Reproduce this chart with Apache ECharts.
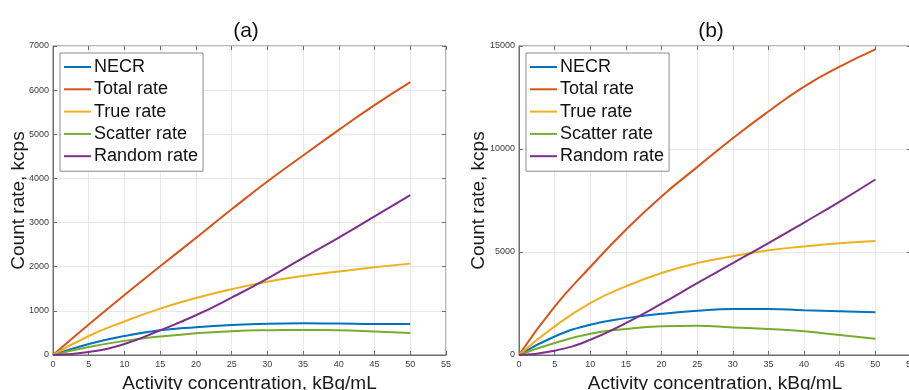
<!DOCTYPE html>
<html>
<head>
<meta charset="utf-8">
<script src="https://cdn.jsdelivr.net/npm/echarts@6/dist/echarts.min.js"></script>
<style>
  html, body { margin: 0; padding: 0; background: #fff; }
  #countRateChart { width: 909px; height: 390px; }
</style>
</head>
<body>
<div id="countRateChart"></div>
<script>
// activity concentration, kBq/mL
var activity = [0, 5, 10, 15, 20, 25, 30, 35, 40, 45, 50];
var seriesNames = ["NECR", "Total rate", "True rate", "Scatter rate", "Random rate"];
var seriesColors = ["#0072BD", "#D95319", "#EDB120", "#77AC30", "#7E2F8E"];

// panel (a), kcps
var necrA    = [0, 250, 430, 560, 630, 680, 710, 720, 712, 702, 700];
var totalA   = [0, 690, 1360, 2010, 2650, 3300, 3930, 4520, 5100, 5660, 6180];
var trueA    = [0, 430, 760, 1050, 1290, 1490, 1660, 1790, 1890, 1990, 2070];
var scatterA = [0, 180, 320, 420, 490, 540, 560, 565, 560, 535, 500];
var randomA  = [0, 70, 250, 560, 900, 1300, 1730, 2200, 2660, 3140, 3620];

// panel (b), kcps
var necrB    = [0, 900, 1470, 1790, 2000, 2150, 2230, 2230, 2170, 2120, 2070];
var totalB   = [0, 2350, 4270, 6080, 7700, 9120, 10520, 11820, 13030, 14000, 14840];
var trueB    = [0, 1390, 2520, 3330, 3980, 4460, 4790, 5080, 5270, 5430, 5530];
var scatterB = [0, 580, 1035, 1260, 1390, 1420, 1340, 1260, 1150, 970, 790];
var randomB  = [0, 210, 740, 1550, 2490, 3490, 4460, 5430, 6430, 7450, 8520];

var xTicks = { min: 0, max: 55, interval: 5 };
var yTicksA = { min: 0, max: 7000, interval: 1000 };
var yTicksB = { min: 0, max: 15000, interval: 5000 };

var myChart = echarts.init(document.getElementById("countRateChart"));

function pairs(ys) {
  return ys.map(function (y, i) { return [activity[i], y]; });
}

var tickLine = { color: "#6e6e6e" };

function makeXAxis(gridIndex) {
  return {
    type: "value",
    gridIndex: gridIndex,
    position: "bottom",
    min: xTicks.min,
    max: xTicks.max,
    interval: xTicks.interval,
    name: "Activity concentration, kBq/mL",
    nameLocation: "middle",
    nameGap: 19,
    nameTextStyle: { fontSize: 19, color: "#1a1a1a", fontFamily: "Liberation Sans" },
    axisLine: { onZero: false, lineStyle: tickLine },
    axisTick: { inside: true, length: 4, lineStyle: tickLine },
    axisLabel: { fontSize: 9, color: "#3a3a3a", margin: 5 },
    splitLine: { show: true, lineStyle: { color: "#e8e8e8" } }
  };
}

// top edge ticks (box)
function makeTopAxis(gridIndex) {
  return {
    type: "value",
    gridIndex: gridIndex,
    position: "top",
    min: xTicks.min,
    max: xTicks.max,
    interval: xTicks.interval,
    axisLine: { show: false, onZero: false },
    axisTick: { inside: true, length: 4, lineStyle: tickLine },
    axisLabel: { show: false },
    splitLine: { show: false }
  };
}

function makeYAxis(gridIndex, ticks, gap) {
  return {
    type: "value",
    gridIndex: gridIndex,
    position: "left",
    min: ticks.min,
    max: ticks.max,
    interval: ticks.interval,
    name: "Count rate, kcps",
    nameLocation: "middle",
    nameGap: gap,
    nameMoveOverlap: false,
    nameTextStyle: { fontSize: 19, color: "#1a1a1a", fontFamily: "Liberation Sans" },
    axisLine: { show: true, onZero: false, lineStyle: tickLine },
    axisTick: { show: true, inside: true, length: 4, lineStyle: tickLine },
    axisLabel: { fontSize: 9, color: "#3a3a3a", margin: 4, formatter: function (v) { return String(v); } },
    splitLine: { show: true, lineStyle: { color: "#e8e8e8" } }
  };
}

// right edge ticks (box)
function makeRightAxis(gridIndex, ticks) {
  return {
    type: "value",
    gridIndex: gridIndex,
    position: "right",
    min: ticks.min,
    max: ticks.max,
    interval: ticks.interval,
    axisLine: { show: false, onZero: false },
    axisTick: { show: true, inside: true, length: 4, lineStyle: tickLine },
    axisLabel: { show: false },
    splitLine: { show: false }
  };
}

function makeLegend(left) {
  return {
    data: seriesNames,
    orient: "vertical",
    left: left,
    top: 53,
    padding: [5, 5, 6, 4],
    icon: "rect",
    itemWidth: 27,
    itemHeight: 2,
    itemGap: 4.3,
    backgroundColor: "#fff",
    borderColor: "#8a8a8a",
    borderWidth: 1,
    borderRadius: 0,
    selectedMode: false,
    textStyle: { fontSize: 18, color: "#111", fontFamily: "Liberation Sans", padding: [0, 0, 0, -2] }
  };
}

function makeSeries(data, idx, axisIdx) {
  return {
    name: seriesNames[idx],
    type: "line",
    xAxisIndex: axisIdx,
    yAxisIndex: axisIdx,
    smooth: true,
    symbol: "none",
    lineStyle: { width: 2, color: seriesColors[idx] },
    itemStyle: { color: seriesColors[idx] },
    data: pairs(data)
  };
}

var dataA = [necrA, totalA, trueA, scatterA, randomA];
var dataB = [necrB, totalB, trueB, scatterB, randomB];
var series = [];
dataA.forEach(function (d, i) { series.push(makeSeries(d, i, 0)); });
dataB.forEach(function (d, i) { series.push(makeSeries(d, i, 1)); });

var option = {
  animation: false,
  backgroundColor: "#fff",
  textStyle: { fontFamily: "Liberation Sans" },
  title: [
    { text: "(a)", left: 241, top: 26, textAlign: "center", textVerticalAlign: "middle",
      textStyle: { fontSize: 21, fontWeight: "normal", color: "#111" } },
    { text: "(b)", left: 706, top: 26, textAlign: "center", textVerticalAlign: "middle",
      textStyle: { fontSize: 21, fontWeight: "normal", color: "#111" } }
  ],
  grid: [
    { left: 53, top: 46, width: 393, height: 309, show: true, borderColor: "#6e6e6e",
      backgroundColor: "transparent", outerBoundsMode: "none", containLabel: false },
    { left: 519, top: 46, width: 392, height: 309, show: true, borderColor: "#6e6e6e",
      backgroundColor: "transparent", outerBoundsMode: "none", containLabel: false }
  ],
  xAxis: [makeXAxis(0), makeXAxis(1), makeTopAxis(0), makeTopAxis(1)],
  yAxis: [makeYAxis(0, yTicksA, 25), makeYAxis(1, yTicksB, 31), makeRightAxis(0, yTicksA), makeRightAxis(1, yTicksB)],
  legend: [makeLegend(60), makeLegend(526)],
  series: series
};

myChart.setOption(option);
</script>
</body>
</html>
